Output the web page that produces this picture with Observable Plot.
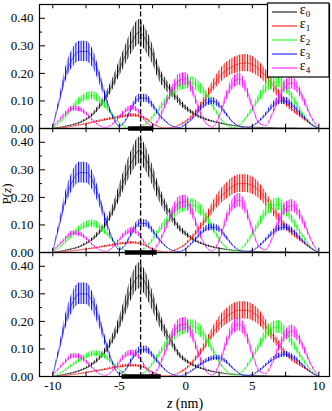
<!DOCTYPE html>
<html><head><meta charset="utf-8">
<script src="https://cdn.jsdelivr.net/npm/d3@7"></script>
<script src="https://cdn.jsdelivr.net/npm/@observablehq/plot@0.6"></script>
<style>
body{margin:0;background:#fff;}
#wrap{position:relative;width:332px;height:411px;}
</style></head><body><div id="wrap"></div>
<script>
// sample positions (nm)
const zs = [-10,-9.5,-9,-8.5,-8,-7.5,-7,-6.5,-6,-5.5,-5,-4.5,-4,-3.5,-3,-2.5,-2,-1.5,-1,-0.5,0,0.5,1,1.5,2,2.5,3,3.5,4,4.5,5,5.5,6,6.5,7,7.5,8,8.5,9,9.5,10];
const seriesNames = ["0","1","2","3","4"];
const seriesColors = ["#000000","#ff0000","#00ff00","#0000ff","#ff00ff"];
const panelIds = [1,2,3];

// top panel
const top_e0 = [0,0.004,0.008,0.013,0.02,0.032,0.05,0.078,0.115,0.16,0.215,0.27,0.32,0.35,0.32,0.27,0.2,0.16,0.13,0.1,0.075,0.057,0.043,0.033,0.026,0.02,0.015,0.011,0.008,0.006,0.005,0.004,0.003,0.003,0.002,0.002,0.002,0.001,0.001,0.001,0];
const top_e1 = [0,0.002,0.004,0.008,0.012,0.017,0.022,0.027,0.032,0.037,0.042,0.046,0.048,0.045,0.035,0.018,0.006,0.002,0.004,0.012,0.025,0.045,0.075,0.11,0.15,0.185,0.21,0.225,0.235,0.238,0.232,0.215,0.19,0.16,0.125,0.095,0.07,0.05,0.03,0.012,0];
const top_e2 = [0,0.02,0.045,0.075,0.1,0.115,0.12,0.105,0.08,0.05,0.02,0.005,0.002,0.006,0.015,0.04,0.07,0.1,0.13,0.155,0.165,0.165,0.15,0.125,0.085,0.045,0.015,0.003,0.01,0.035,0.07,0.11,0.145,0.165,0.17,0.15,0.115,0.075,0.04,0.015,0];
const top_e3 = [0.005,0.1,0.2,0.255,0.28,0.28,0.255,0.19,0.11,0.045,0.008,0.03,0.08,0.11,0.11,0.085,0.05,0.025,0.008,0.003,0.015,0.035,0.065,0.09,0.1,0.085,0.055,0.025,0.008,0.002,0.008,0.025,0.05,0.08,0.1,0.1,0.085,0.06,0.035,0.012,0];
const top_e4 = [0.005,0.03,0.055,0.072,0.07,0.055,0.03,0.01,0.004,0.015,0.04,0.065,0.075,0.06,0.025,0.008,0.035,0.09,0.14,0.175,0.18,0.14,0.07,0.02,0.005,0.04,0.11,0.16,0.18,0.15,0.08,0.02,0.01,0.05,0.11,0.155,0.165,0.14,0.09,0.035,0];

// middle panel
const mid_e0 = [0,0.004,0.008,0.013,0.02,0.032,0.048,0.072,0.105,0.15,0.215,0.28,0.335,0.37,0.34,0.28,0.215,0.165,0.125,0.09,0.068,0.05,0.036,0.027,0.02,0.015,0.011,0.008,0.006,0.005,0.004,0.003,0.003,0.002,0.002,0.002,0.001,0.001,0.001,0.001,0];
const mid_e1 = [0,0.002,0.004,0.006,0.009,0.012,0.015,0.019,0.023,0.027,0.031,0.034,0.035,0.033,0.025,0.013,0.005,0.002,0.005,0.015,0.03,0.055,0.085,0.12,0.16,0.195,0.22,0.24,0.25,0.25,0.243,0.225,0.195,0.16,0.125,0.095,0.07,0.05,0.03,0.012,0];
const mid_e2 = [0,0.018,0.04,0.065,0.085,0.1,0.105,0.095,0.072,0.045,0.02,0.006,0.002,0.006,0.018,0.045,0.08,0.11,0.14,0.16,0.172,0.172,0.16,0.13,0.09,0.05,0.02,0.005,0.008,0.03,0.065,0.105,0.145,0.17,0.175,0.155,0.12,0.08,0.045,0.015,0];
const mid_e3 = [0.005,0.1,0.2,0.26,0.29,0.29,0.26,0.195,0.115,0.048,0.01,0.03,0.075,0.105,0.105,0.08,0.048,0.022,0.007,0.003,0.013,0.035,0.062,0.085,0.092,0.085,0.058,0.028,0.008,0.002,0.007,0.022,0.045,0.07,0.088,0.092,0.08,0.058,0.033,0.012,0];
const mid_e4 = [0.005,0.028,0.052,0.07,0.068,0.052,0.028,0.01,0.004,0.018,0.045,0.07,0.08,0.065,0.03,0.008,0.035,0.09,0.145,0.18,0.185,0.145,0.075,0.022,0.005,0.04,0.115,0.17,0.19,0.16,0.085,0.022,0.01,0.05,0.115,0.16,0.17,0.145,0.095,0.038,0];

// bottom panel
const bot_e0 = [0,0.004,0.008,0.013,0.02,0.03,0.045,0.066,0.095,0.135,0.19,0.26,0.33,0.365,0.335,0.275,0.21,0.16,0.12,0.08,0.058,0.043,0.032,0.024,0.018,0.014,0.01,0.008,0.006,0.005,0.004,0.003,0.003,0.002,0.002,0.002,0.001,0.001,0.001,0.001,0];
const bot_e1 = [0,0.002,0.004,0.007,0.01,0.014,0.018,0.022,0.026,0.031,0.035,0.039,0.04,0.038,0.03,0.016,0.006,0.002,0.004,0.013,0.027,0.05,0.08,0.115,0.155,0.19,0.215,0.232,0.24,0.24,0.233,0.215,0.185,0.15,0.115,0.085,0.062,0.045,0.028,0.012,0];
const bot_e2 = [0,0.01,0.025,0.042,0.058,0.072,0.082,0.082,0.07,0.048,0.024,0.008,0.002,0.006,0.018,0.045,0.08,0.115,0.145,0.165,0.178,0.182,0.17,0.14,0.1,0.055,0.022,0.006,0.008,0.03,0.068,0.11,0.15,0.175,0.18,0.16,0.125,0.085,0.048,0.018,0];
const bot_e3 = [0.005,0.1,0.205,0.27,0.3,0.3,0.27,0.205,0.12,0.05,0.01,0.025,0.065,0.095,0.098,0.078,0.048,0.022,0.007,0.002,0.008,0.022,0.04,0.055,0.066,0.068,0.055,0.032,0.012,0.003,0.006,0.02,0.04,0.06,0.075,0.08,0.072,0.055,0.032,0.012,0];
const bot_e4 = [0.005,0.03,0.055,0.075,0.072,0.055,0.03,0.01,0.004,0.02,0.05,0.078,0.085,0.07,0.032,0.008,0.035,0.095,0.15,0.185,0.19,0.15,0.078,0.022,0.005,0.04,0.115,0.17,0.19,0.16,0.085,0.022,0.01,0.048,0.105,0.15,0.165,0.14,0.09,0.035,0];

// reference marks
const dashZ = [-3.4];
const barStart = [-4.3, -4.55, -4.8];
const barEnd = [-2.4, -2.15, -1.85];

// ticks
const xLabelTicks = [-10,-5,0,5,10];
const xTickMarks = [-10,-7.5,-5,-2.5,0,2.5,5,7.5,10];
const yLabelTicks = [0,0.1,0.2,0.3,0.4];
const yMinorTicks = [0.05,0.15,0.25,0.35];

const panelSeries = {1:[top_e0,top_e1,top_e2,top_e3,top_e4], 2:[mid_e0,mid_e1,mid_e2,mid_e3,mid_e4], 3:[bot_e0,bot_e1,bot_e2,bot_e3,bot_e4]};
const rows = [];
panelIds.forEach(p => panelSeries[p].forEach((arr, s) => arr.forEach((v, j) => rows.push({panel: p, s, z: zs[j], p: v}))));
const bars = panelIds.map((p, i) => ({panel: p, a: barStart[i], b: barEnd[i]}));

const W = 332, H = 411, mL = 39, mR = 3, mT = 3, mB = 34;
const fh = (H - mT - mB) / 3, fw = W - mL - mR;

const seriesMarks = [];
seriesNames.forEach((n, k) => {
  const data = rows.filter(d => d.s === k);
  seriesMarks.push(Plot.areaY(data, {x: "z", y1: d => d.p * 0.87, y2: d => d.p * 1.13, fy: "panel", fill: `url(#hatch${k})`, curve: "monotone-x"}));
  seriesMarks.push(Plot.lineY(data, {x: "z", y: "p", fy: "panel", stroke: seriesColors[k], strokeWidth: 0.8, strokeOpacity: 0.7, curve: "monotone-x"}));
});

const chart = Plot.plot({
  width: W, height: H,
  marginLeft: mL, marginRight: mR, marginTop: mT, marginBottom: mB,
  x: {domain: [-11, 10.8]},
  y: {domain: [0, 0.45]},
  fy: {domain: panelIds, axis: null, padding: 0},
  style: {fontFamily: "'Liberation Serif', serif", fontSize: "13px", background: "white", color: "#000"},
  marks: [
    ...seriesMarks,
    Plot.ruleX(dashZ, {x: d => d, stroke: "#000", strokeWidth: 1.3, strokeDasharray: "5,2.5"}),
    Plot.ruleY(bars, {fy: "panel", x1: "a", x2: "b", y: 0, stroke: "#000", strokeWidth: 4.5}),
    Plot.ruleX(xTickMarks, {x: d => d, insetTop: fh - 5, stroke: "#000"}),
    Plot.ruleX(xTickMarks, {x: d => d, insetBottom: fh - 5, stroke: "#000"}),
    Plot.ruleY(yLabelTicks, {y: d => d, insetRight: fw - 6, stroke: "#000"}),
    Plot.ruleY(yMinorTicks, {y: d => d, insetRight: fw - 3, stroke: "#000"}),
    Plot.frame({stroke: "#000", strokeWidth: 1.2}),
    Plot.axisY({ticks: yLabelTicks, tickSize: 0, tickPadding: 6, label: null}),
    Plot.axisX({ticks: xLabelTicks, tickSize: 0, tickPadding: 4, label: null, tickFormat: d => String(d)})
  ]
});
document.getElementById("wrap").appendChild(chart);

const svg = d3.select(chart);
// stripe patterns that give the rippled look of the curves
const defs = svg.insert("defs", ":first-child");
seriesColors.forEach((c, k) => {
  const pat = defs.append("pattern").attr("id", `hatch${k}`).attr("patternUnits", "userSpaceOnUse").attr("width", 2.6).attr("height", 6);
  pat.append("rect").attr("x", 0).attr("y", 0).attr("width", 1.1).attr("height", 6).attr("fill", c);
});
// y label
const yl = svg.append("text").attr("transform", "translate(11,194) rotate(-90)").attr("text-anchor", "middle")
  .attr("font-family", "'Liberation Serif', serif").attr("font-size", 13).attr("fill", "#000");
yl.append("tspan").text("P(");
yl.append("tspan").attr("font-style", "italic").text("z");
yl.append("tspan").text(")");
// x label
const xl = svg.append("text").attr("x", 185).attr("y", 408).attr("text-anchor", "middle")
  .attr("font-family", "'Liberation Serif', serif").attr("font-size", 14).attr("fill", "#000");
xl.append("tspan").attr("font-style", "italic").text("z");
xl.append("tspan").text(" (nm)");
// legend
const lg = svg.append("g");
lg.append("rect").attr("x", 267.5).attr("y", 3).attr("width", 61.5).attr("height", 74).attr("fill", "#fff").attr("stroke", "#000").attr("stroke-width", 1.2);
seriesNames.forEach((n, i) => {
  const yy = 12 + i * 14;
  lg.append("line").attr("x1", 272).attr("x2", 297).attr("y1", yy).attr("y2", yy).attr("stroke", seriesColors[i]).attr("stroke-width", 1);
  const t = lg.append("text").attr("x", 305).attr("y", yy + 1.5).attr("font-family", "'Liberation Serif', serif").attr("font-size", 14).attr("fill", "#000");
  t.append("tspan").text("ε");
  t.append("tspan").attr("font-size", 9).attr("dy", 3).text(n);
});
</script></body></html>
